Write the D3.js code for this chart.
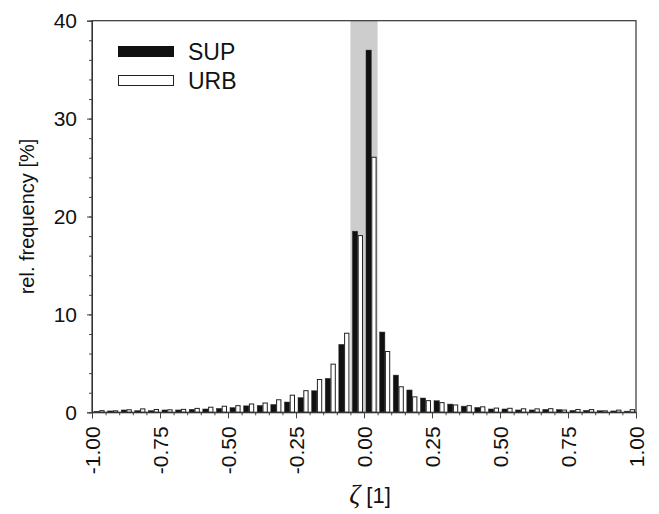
<!DOCTYPE html>
<html>
<head>
<meta charset="utf-8">
<script src="https://cdn.jsdelivr.net/npm/d3@7"></script>
<style>
  body { margin: 0; background: #fff; }
  svg { display: block; }
</style>
</head>
<body>
<svg id="chart" width="659" height="514" viewBox="0 0 659 514"></svg>
<script>
// bin lower edges (width 0.05)
const binStart = [-1.00, -0.95, -0.90, -0.85, -0.80, -0.75, -0.70, -0.65, -0.60, -0.55,
  -0.50, -0.45, -0.40, -0.35, -0.30, -0.25, -0.20, -0.15, -0.10, -0.05,
  0.00, 0.05, 0.10, 0.15, 0.20, 0.25, 0.30, 0.35, 0.40, 0.45,
  0.50, 0.55, 0.60, 0.65, 0.70, 0.75, 0.80, 0.85, 0.90, 0.95];

const sup = [0.10, 0.14, 0.24, 0.17, 0.17, 0.24, 0.24, 0.31, 0.34, 0.40,
  0.48, 0.66, 0.70, 0.80, 1.05, 1.50, 2.20, 3.47, 6.94, 18.5,
  37.0, 8.2, 3.8, 2.28, 1.46, 1.18, 0.84, 0.63, 0.50, 0.34,
  0.34, 0.24, 0.24, 0.30, 0.28, 0.20, 0.20, 0.16, 0.14, 0.12];
const urb = [0.22, 0.20, 0.31, 0.40, 0.34, 0.31, 0.35, 0.45, 0.57, 0.67,
  0.73, 0.90, 1.00, 1.33, 1.80, 2.26, 3.40, 4.97, 8.13, 18.1,
  26.1, 6.26, 2.66, 1.63, 1.24, 1.04, 0.80, 0.73, 0.61, 0.48,
  0.46, 0.41, 0.40, 0.42, 0.28, 0.34, 0.33, 0.20, 0.27, 0.32];

const seriesNames = ["SUP", "URB"];
const xTickValues = [-1, -0.75, -0.5, -0.25, 0, 0.25, 0.5, 0.75, 1];
const xTickLabels = ["-1.00", "-0.75", "-0.50", "-0.25", "0.00", "0.25", "0.50", "0.75", "1.00"];
const yTickValues = [0, 10, 20, 30, 40];
const shade = [-0.05, 0.05];

const font = "'Liberation Sans', Arial, sans-serif";
const svg = d3.select("#chart");
const margin = { top: 20.7, right: 23, bottom: 102, left: 92 };
const width = 659, height = 514;

const x = d3.scaleLinear().domain([-1, 1]).range([margin.left, width - margin.right]);
const y = d3.scaleLinear().domain([0, 40]).range([height - margin.bottom + 0.3, margin.top]);
const sub = d3.scaleBand().domain(seriesNames).range([2, 12.6]);

const data = binStart.map((b, i) => ({ b, SUP: sup[i], URB: urb[i] }));

// gray band
svg.append("rect")
  .attr("x", x(shade[0]))
  .attr("width", x(shade[1]) - x(shade[0]))
  .attr("y", y(40))
  .attr("height", y(0) - y(40))
  .attr("fill", "#cdcdcd");

const bins = svg.selectAll(".bin")
  .data(data)
  .join("g")
  .attr("class", "bin")
  .attr("transform", d => `translate(${x(d.b)},0)`);

bins.append("rect")
  .attr("x", sub("SUP"))
  .attr("width", sub.bandwidth())
  .attr("y", d => y(d.SUP))
  .attr("height", d => y(0) - y(d.SUP))
  .attr("fill", "#111")
  .attr("stroke", "#333")
  .attr("stroke-width", 0.5);

bins.append("rect")
  .attr("x", sub("URB") + 0.5)
  .attr("width", sub.bandwidth() - 1)
  .attr("y", d => y(d.URB) + 0.5)
  .attr("height", d => Math.max(0, y(0) - y(d.URB) - 0.5))
  .attr("fill", "#fff")
  .attr("stroke", "#222")
  .attr("stroke-width", 1);

// frame
svg.append("rect")
  .attr("x", x(-1))
  .attr("y", y(40))
  .attr("width", x(1) - x(-1))
  .attr("height", y(0) - y(40))
  .attr("fill", "none")
  .attr("stroke", "#333")
  .attr("stroke-width", 1.2);

// y axis
const yAxis = svg.append("g").attr("transform", `translate(${x(-1)},0)`);
yAxis.append("g")
  .call(d3.axisLeft(y).tickValues(d3.range(0, 41, 2)).tickSize(3).tickFormat(""))
  .call(g => g.select(".domain").remove())
  .call(g => g.selectAll("line").attr("stroke", "#444"));
yAxis.append("g")
  .call(d3.axisLeft(y).tickValues(yTickValues).tickSize(5).tickPadding(10).tickFormat(d3.format("d")))
  .call(g => g.select(".domain").attr("stroke", "#333"))
  .call(g => g.selectAll("line").attr("stroke", "#444"))
  .call(g => g.selectAll("text").attr("font-family", font).attr("font-size", 21).attr("fill", "#111"));

// x axis
const xAxis = svg.append("g").attr("transform", `translate(0,${y(0)})`);
xAxis.append("g")
  .call(d3.axisBottom(x).tickValues(binStart.concat([1])).tickSize(3).tickFormat(""))
  .call(g => g.select(".domain").remove())
  .call(g => g.selectAll("line").attr("stroke", "#444"));
xAxis.append("g")
  .call(d3.axisBottom(x).tickValues(xTickValues).tickSize(6).tickFormat((d, i) => xTickLabels[i]))
  .call(g => g.select(".domain").attr("stroke", "#333"))
  .call(g => g.selectAll("line").attr("stroke", "#444"))
  .call(g => g.selectAll("text")
    .attr("font-family", font).attr("font-size", 21).attr("fill", "#111")
    .attr("text-anchor", "end")
    .attr("transform", "rotate(-90)")
    .attr("x", -14).attr("y", 0).attr("dy", "0.35em"));

// axis titles
svg.append("text")
  .attr("transform", `translate(34,${(y(0) + y(40)) / 2}) rotate(-90)`)
  .attr("text-anchor", "middle")
  .attr("font-family", font)
  .attr("font-size", 20)
  .attr("fill", "#111")
  .text("rel. frequency [%]");

const xt = svg.append("text")
  .attr("x", (x(-1) + x(1)) / 2 + 6)
  .attr("y", 503)
  .attr("text-anchor", "middle")
  .attr("font-family", font)
  .attr("font-size", 22)
  .attr("fill", "#111");
xt.append("tspan").attr("font-family", "'Liberation Serif', 'DejaVu Serif', serif").attr("font-style", "italic").attr("font-size", 27).text("ζ");
xt.append("tspan").text(" [1]");

// legend
const legend = svg.selectAll(".legend")
  .data(seriesNames)
  .join("g")
  .attr("class", "legend")
  .attr("transform", (d, i) => `translate(118,${46 + i * 29})`);
legend.append("rect")
  .attr("x", d => d === "URB" ? 0.5 : 0)
  .attr("y", d => d === "URB" ? 0.5 : 0)
  .attr("width", d => d === "URB" ? 55 : 56)
  .attr("height", d => d === "URB" ? 10 : 11)
  .attr("fill", d => d === "SUP" ? "#111" : "#fff")
  .attr("stroke", d => d === "SUP" ? "none" : "#222");
legend.append("text")
  .attr("x", 70)
  .attr("y", 13.5)
  .attr("font-family", font)
  .attr("font-size", 23)
  .attr("fill", "#111")
  .text(d => d);
</script>
</body>
</html>
